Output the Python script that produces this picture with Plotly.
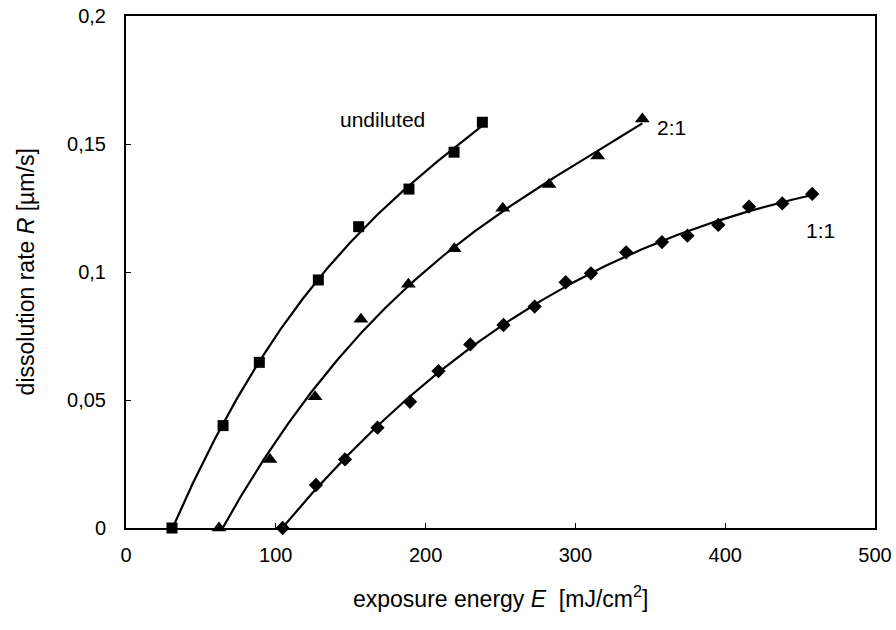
import numpy as np
import plotly.graph_objects as go

# ---- data ----
undil_E = [30.7, 64.8, 89.0, 128.4, 155.3, 188.9, 219.0, 237.9]
undil_R = [0.0, 0.040, 0.0647, 0.0969, 0.1177, 0.1324, 0.1468, 0.1585]

d21_E = [62.1, 96.1, 126.2, 156.8, 188.5, 219.1, 251.5, 282.4, 314.9, 344.7]
d21_R = [0.0, 0.0268, 0.0513, 0.0815, 0.0952, 0.1091, 0.1249, 0.1342, 0.1453, 0.1598]

d11_E = [104.6, 126.8, 146.2, 167.9, 189.6, 208.6, 229.8, 252.0, 272.8, 293.5,
         310.4, 333.9, 357.8, 374.8, 395.4, 415.9, 438.1, 458.1]
d11_R = [0.0, 0.0168, 0.0268, 0.0392, 0.0493, 0.0613, 0.0717, 0.0793, 0.0865, 0.0960,
         0.0995, 0.1077, 0.1117, 0.1142, 0.1184, 0.1255, 0.1268, 0.1305]

x_ticks = [0, 100, 200, 300, 400, 500]
x_tick_text = ["0", "100", "200", "300", "400", "500"]
y_ticks = [0, 0.05, 0.1, 0.15, 0.2]
y_tick_text = ["0", "0,05", "0,1", "0,15", "0,2"]

series = [
    ("undiluted", undil_E, undil_R, "square", 11),
    ("2:1", d21_E, d21_R, "triangle-up", 13),
    ("1:1", d11_E, d11_R, "diamond", 11),
]

FONT = "Liberation Sans, Arial, sans-serif"
fig = go.Figure()

for name, E, R, sym, sz in series:
    # polynomial trendline fitted to the data (as in the original)
    coef = np.polyfit(E, R, 3)
    xs = np.linspace(min(E), max(E), 200)
    fig.add_trace(go.Scatter(x=xs, y=np.polyval(coef, xs), mode="lines",
                             line=dict(color="black", width=2.2), showlegend=False,
                             hoverinfo="skip"))
    fig.add_trace(go.Scatter(x=E, y=R, mode="markers", name=name,
                             marker=dict(symbol=sym, size=sz, color="black"),
                             showlegend=False, cliponaxis=False))

fig.update_layout(
    width=896, height=630,
    margin=dict(l=126, r=21, t=16, b=102, autoexpand=False),
    plot_bgcolor="white", paper_bgcolor="white",
    font=dict(family=FONT, size=20, color="black"),
)
fig.update_xaxes(range=[0, 500], tickvals=x_ticks, ticktext=x_tick_text,
                 ticks="inside", ticklen=5, tickwidth=1, tickcolor="black",
                 showline=True, linecolor="black", linewidth=2, mirror=True,
                 showgrid=False, zeroline=False, tickfont=dict(size=20),
                 automargin=False, ticklabelstandoff=8)
fig.update_yaxes(range=[0, 0.2], tickvals=y_ticks, ticktext=y_tick_text,
                 ticks="inside", ticklen=5, tickwidth=1, tickcolor="black",
                 showline=True, linecolor="black", linewidth=2, mirror=True,
                 showgrid=False, zeroline=False, tickfont=dict(size=20),
                 automargin=False, ticklabelstandoff=14)

annos = [
    dict(x=0.5, y=-0.135, xref="paper", yref="paper",
         text="exposure energy <i>E</i>  [mJ/cm<sup>2</sup>]",
         showarrow=False, font=dict(size=23), xanchor="center", yanchor="middle"),
    dict(x=-0.133, y=0.5, xref="paper", yref="paper",
         text="dissolution rate <i>R</i> [µm/s]",
         showarrow=False, font=dict(size=23), textangle=-90, xanchor="center", yanchor="middle"),
    dict(x=171.5, y=0.1594, xref="x", yref="y", text="undiluted", showarrow=False,
         font=dict(size=21), xanchor="center", yanchor="middle"),
    dict(x=364.1, y=0.1563, xref="x", yref="y", text="2:1", showarrow=False,
         font=dict(size=21), xanchor="center", yanchor="middle"),
    dict(x=463.7, y=0.1164, xref="x", yref="y", text="1:1", showarrow=False,
         font=dict(size=21), xanchor="center", yanchor="middle"),
]
fig.update_layout(annotations=annos)

fig.write_html("out.html")
